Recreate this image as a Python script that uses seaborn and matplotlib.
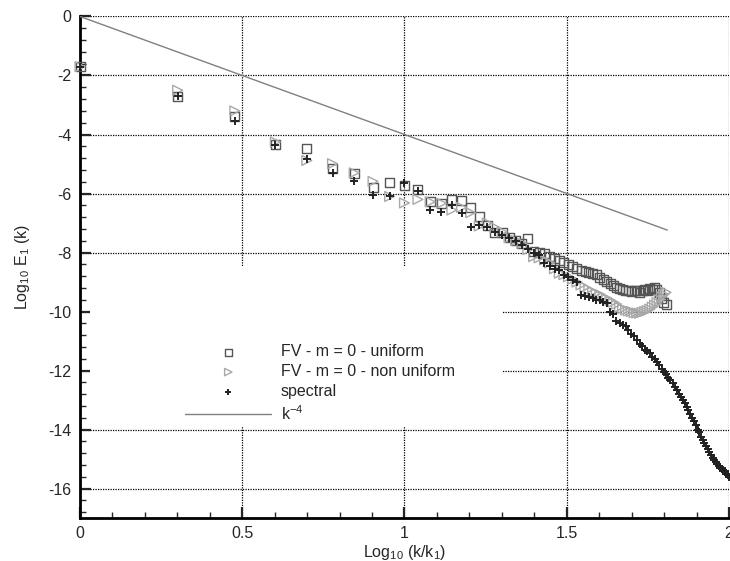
import numpy as np
import pandas as pd
import seaborn as sns
from matplotlib import pyplot as plt
from matplotlib.patches import Rectangle
from matplotlib.ticker import MultipleLocator

# wavenumbers
k_fv = np.arange(1, 65)
k_spec = np.arange(1, 101)

# FV - m = 0 - uniform (squares), log10 E1 for k = 1..64
e_uniform = [
    -1.70, -2.70, -3.40, -4.35, -4.47, -5.16, -5.33, -5.79, -5.63, -5.72,
    -5.87, -6.28, -6.33, -6.20, -6.24, -6.47, -6.79, -7.07, -7.33, -7.33,
    -7.50, -7.58, -7.70, -7.52, -7.95, -8.00, -8.05, -8.12, -8.20, -8.28,
    -8.35, -8.40, -8.48, -8.55, -8.60, -8.65, -8.68, -8.72, -8.76, -8.85,
    -8.93, -8.98, -9.04, -9.12, -9.20, -9.22, -9.26, -9.28, -9.30, -9.32,
    -9.30, -9.28, -9.34, -9.30, -9.26, -9.30, -9.22, -9.25, -9.20, -9.25,
    -9.35, -9.55, -9.70, -9.75,
]

# FV - m = 0 - non uniform (triangles)
e_nonuniform = [
    -1.70, -2.50, -3.20, -4.25, -4.88, -4.99, -5.30, -5.59, -6.10, -6.32,
    -6.20, -6.28, -6.33, -6.56, -6.47, -6.65, -7.10, -7.00, -7.15, -7.30,
    -7.50, -7.60, -7.69, -7.90, -8.14, -8.18, -8.25, -8.35, -8.55, -8.70,
    -8.75, -8.82, -8.90, -9.00, -9.10, -9.18, -9.25, -9.33, -9.38, -9.42,
    -9.50, -9.55, -9.62, -9.68, -9.75, -9.85, -9.90, -9.95, -9.98, -10.00,
    -10.04, -10.05, -10.06, -10.03, -10.00, -9.97, -9.92, -9.85, -9.78, -9.70,
    -9.60, -9.50, -9.42, -9.35,
]

# spectral (plus), k = 1..100
e_spectral = [
    -1.70, -2.70, -3.55, -4.35, -4.83, -5.31, -5.59, -6.04, -6.08, -5.65,
    -5.92, -6.56, -6.62, -6.39, -6.67, -7.12, -7.07, -7.15, -7.30, -7.40,
    -7.50, -7.62, -7.73, -7.88, -8.00, -8.10, -8.37, -8.45, -8.55, -8.60,
    -8.77, -8.84, -8.93, -9.00, -9.44, -9.47, -9.50, -9.55, -9.60, -9.62,
    -9.68, -9.72, -10.02, -10.10, -10.32, -10.38, -10.45, -10.50, -10.62, -10.75,
    -10.82, -10.95, -11.10, -11.17, -11.30, -11.35, -11.40, -11.55, -11.62, -11.72,
    -11.82, -11.95, -12.05, -12.12, -12.25, -12.33, -12.42, -12.55, -12.66, -12.80,
    -12.90, -13.00, -13.10, -13.25, -13.35, -13.48, -13.60, -13.72, -13.85, -14.00,
    -14.10, -14.25, -14.35, -14.45, -14.55, -14.65, -14.75, -14.85, -14.95, -15.02,
    -15.10, -15.18, -15.25, -15.30, -15.35, -15.38, -15.42, -15.50, -15.55, -15.60,
]

# k^-4 reference slope
ref_x = [0.0, 1.81]
ref_y = [0.0, -7.24]

fv = pd.DataFrame({"x": np.log10(k_fv), "uni": e_uniform, "nonuni": e_nonuniform})
spec = pd.DataFrame({"x": np.log10(k_spec), "E": e_spectral})
ref = pd.DataFrame({"x": ref_x, "E": ref_y})

sns.set_style("ticks")
plt.rcParams["font.family"] = ["Liberation Sans", "DejaVu Sans"]
plt.rcParams["mathtext.fontset"] = "custom"
plt.rcParams["mathtext.rm"] = "Liberation Sans"
plt.rcParams["mathtext.it"] = "Liberation Sans:italic"
plt.rcParams["font.size"] = 11

fig = plt.figure(figsize=(7.3, 5.61), dpi=100)
ax = fig.add_axes([0.1096, 0.0766, 0.8890, 0.8940])

sns.lineplot(data=ref, x="x", y="E", ax=ax, color="#808080", lw=1.0,
             label=r"k$^{\mathregular{-4}}$", zorder=3)
sns.scatterplot(data=fv, x="x", y="uni", ax=ax, marker="s", s=42,
                facecolor="none", edgecolor="#555555", linewidth=1.0,
                label="FV - m = 0 - uniform", zorder=4, clip_on=False)
sns.scatterplot(data=fv, x="x", y="nonuni", ax=ax, marker=">", s=50,
                facecolor="none", edgecolor="#a8a8a8", linewidth=1.0,
                label="FV - m = 0 - non uniform", zorder=4, clip_on=False)
sns.scatterplot(data=spec, x="x", y="E", ax=ax, marker="+", s=34,
                color="#222222", linewidth=1.4,
                label="spectral", zorder=5, clip_on=False)

ax.set_xlim(0, 2)
ax.set_ylim(-17, 0)
ax.xaxis.set_major_locator(MultipleLocator(0.5))
ax.xaxis.set_minor_locator(MultipleLocator(0.1))
ax.yaxis.set_major_locator(MultipleLocator(2))
ax.yaxis.set_minor_locator(MultipleLocator(0.4))
ax.set_xticks([0, 0.5, 1, 1.5, 2])
ax.set_xticklabels(["0", "0.5", "1", "1.5", "2"])
ax.set_yticks(range(-16, 1, 2))
ax.set_yticklabels([str(v) for v in range(-16, 1, 2)])

ax.grid(True, which="major", color="black", linestyle=(0, (1, 1)), lw=0.9)
ax.set_axisbelow(True)
ax.tick_params(which="major", direction="in", length=8, width=1.6, labelsize=11.5, pad=6)
ax.tick_params(which="minor", direction="in", length=4, width=1.0)
for side in ["top", "right"]:
    ax.spines[side].set_visible(False)
for side in ["left", "bottom"]:
    ax.spines[side].set_linewidth(2.0)
    ax.spines[side].set_color("black")

# white block behind the legend hides the grid there
ax.add_patch(Rectangle((0.03, -13.9), 1.274, 5.4, facecolor="white",
                       edgecolor="none", zorder=1))

h, l = ax.get_legend_handles_labels()
order = [1, 2, 3, 0]
ax.legend([h[i] for i in order], [l[i] for i in order], loc="upper left",
          bbox_to_anchor=(0.162, 0.346), frameon=False, borderpad=0,
          borderaxespad=0, handlelength=5.4, handletextpad=0.6,
          labelspacing=0.3, fontsize=11.5, markerscale=0.75)

ax.set_xlabel(r"Log$_{\mathregular{10}}$ (k/k$_{\mathregular{1}}$)", fontsize=11.5, labelpad=1)
ax.set_ylabel(r"Log$_{\mathregular{10}}$ E$_{\mathregular{1}}$ (k)", fontsize=11.5, labelpad=12)

fig.savefig("out.png", dpi=100)
